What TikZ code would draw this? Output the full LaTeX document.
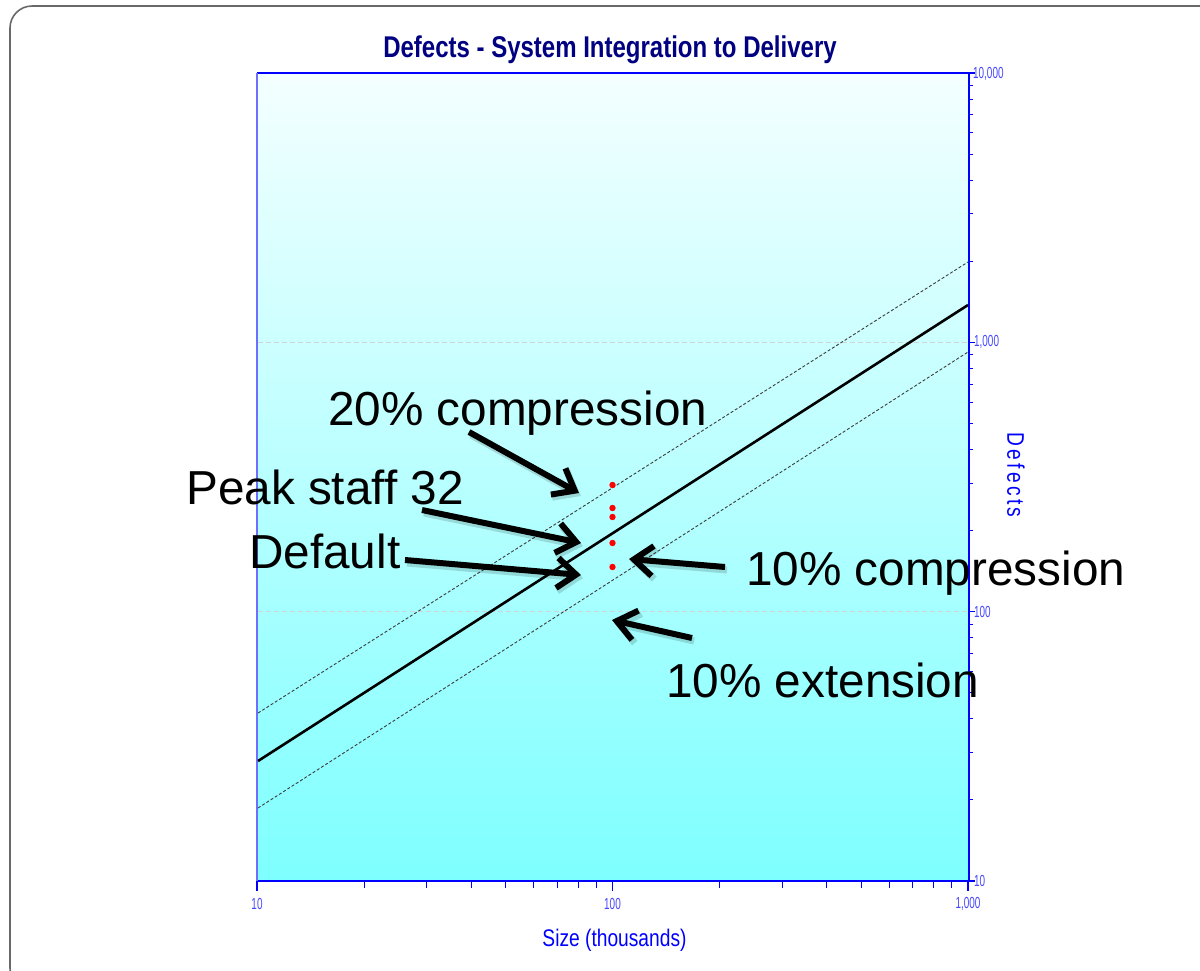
\documentclass[tikz,border=0pt]{standalone}
\usepackage{fontspec}
\setmainfont{Liberation Sans}
\usetikzlibrary{arrows.meta}

\definecolor{navytitle}{RGB}{0,0,128}
\definecolor{axisblue}{RGB}{0,0,255}
\definecolor{leftblue}{RGB}{110,110,255}
\definecolor{ticklbl}{RGB}{70,70,255}
\definecolor{plottop}{RGB}{244,255,255}
\definecolor{plotbottom}{RGB}{126,255,255}
\definecolor{framegray}{RGB}{105,105,105}
\definecolor{fitgray}{RGB}{60,60,60}
\definecolor{gridgray}{RGB}{205,215,215}

% thick call-out arrow with a faint drop shadow
\newcommand\callarrow[2]{%
  \draw[calloutshadow] ([shift={(2,3)}]#1) -- ([shift={(2,3)}]#2);
  \draw[callout] (#1) -- (#2);}

\begin{document}
\begin{tikzpicture}[x=1pt,y=-1pt,
  callout/.style={line width=6pt, black,
    -{Straight Barb[length=19pt,width=30pt]}},
  calloutshadow/.style={line width=7pt, black, opacity=0.15,
    -{Straight Barb[length=19pt,width=30pt]}},
  calltext/.style={anchor=base west, inner sep=0pt,
    font=\fontsize{47.7}{57}\selectfont},
  fitline/.style={line width=2.6pt, black},
  bandline/.style={line width=0.9pt, fitgray, dash pattern=on 3pt off 2pt},
  gridline/.style={line width=1pt, gridgray, dash pattern=on 5pt off 3pt},
  minortick/.style={line width=0.9pt, axisblue},
  majortick/.style={line width=1.1pt, axisblue},
  ticklabel/.style={inner sep=0pt, text=ticklbl,
    font=\fontsize{16}{18}\selectfont},
  datapt/.style={fill=red, draw=none},
]
\useasboundingbox (0,0) rectangle (1200,970);

% slide frame
\draw[framegray, line width=1.6pt, rounded corners=22pt]
  (10,6) rectangle (1225,990);

% plot area
\shade[top color=plottop, bottom color=plotbottom]
  (257,73) rectangle (969,881);

% horizontal grid lines at 1,000 and 100
\draw[gridline] (258,342.3) -- (968,342.3);
\draw[gridline] (258,611.7) -- (968,611.7);

% frame of the plot
\draw[axisblue, line width=1.2pt] (257,73) -- (969,73);
\draw[axisblue, line width=1.6pt] (969,73) -- (969,881);
\draw[axisblue, line width=1.4pt] (257,881) -- (969,881);
\draw[leftblue, line width=1.6pt] (257,73) -- (257,881);

% x axis ticks (log scale, 10 .. 1,000)
\foreach \k in {0,1}
  \foreach \m in {2,...,9}
    \draw[minortick] ({257+355.5*(\k+log10(\m))},881) -- ++(0,7);
\foreach \xx in {257,612.5,968}
  \draw[majortick] (\xx,881) -- ++(0,10);

% y axis ticks on the right (log scale, 10 .. 10,000)
\foreach \k in {0,1,2}
  \foreach \m in {2,...,9}
    \draw[minortick] (969,{881-269.33*(\k+log10(\m))}) -- ++(4,0);
\foreach \yy in {881,611.7,342.3,73}
  \draw[majortick] (969,\yy) -- ++(6,0);

% tick labels
\node[ticklabel] (xl10)   at (257,904)   {\scalebox{0.62}[1]{10}};
\node[ticklabel] (xl100)  at (612.5,904) {\scalebox{0.62}[1]{100}};
\node[ticklabel] (xl1000) at (968,904)   {\scalebox{0.62}[1]{1,000}};
\node[ticklabel, anchor=west] (yl10)    at (974,881)   {\scalebox{0.62}[1]{10}};
\node[ticklabel, anchor=west] (yl100)   at (974,611.7) {\scalebox{0.62}[1]{100}};
\node[ticklabel, anchor=west] (yl1000)  at (974,342.3) {\scalebox{0.62}[1]{1,000}};
\node[ticklabel, anchor=west] (yl10000) at (973,74)    {\scalebox{0.62}[1]{10,000}};

% titles
\node[anchor=base, inner sep=0pt, text=navytitle,
  font=\fontsize{30}{34}\selectfont\bfseries] (title) at (610,57)
  {\scalebox{0.8}[1]{Defects - System Integration to Delivery}};
\node[anchor=base, inner sep=0pt, text=axisblue,
  font=\fontsize{24}{28}\selectfont] (xtitle) at (614.5,946)
  {\scalebox{0.8}[1]{Size (thousands)}};
\node[rotate=-90, inner sep=0pt, text=axisblue,
  font=\fontsize{24}{28}\selectfont] (ytitle) at (1016,475)
  {\scalebox{0.8}[1]{D\kern4pt e\kern4pt f\kern4pt e\kern4pt c\kern4pt t\kern4pt s}};

% fitted trend line and its band
\coordinate (upL) at (258,713);
\coordinate (upR) at (968,262);
\coordinate (fitL) at (258,761);
\coordinate (fitR) at (968,305);
\coordinate (loL) at (258,808);
\coordinate (loR) at (968,352);
\draw[bandline] (upL) -- (upR);
\draw[bandline] (loL) -- (loR);
\draw[fitline] (fitL) -- (fitR);

% scenario points at size 100
\foreach \yy/\nm in {485/p1,508/p2,517/p3,543/p4,567/p5}
  \fill[datapt] (612.5,\yy) coordinate (\nm) circle (3.2);

% call-outs
\node[calltext] (c20)  at (328,425) {20\% compression};
\node[calltext] (peak) at (186,504) {Peak staff 32};
\node[calltext] (dflt) at (249,568) {Default};
\node[calltext] (c10)  at (746,585) {10\% compression};
\node[calltext] (e10)  at (666,697) {10\% extension};

\coordinate (a1s) at (469,432);  \coordinate (a1e) at (579,493);
\coordinate (a2s) at (422,510);  \coordinate (a2e) at (581,543);
\coordinate (a3s) at (405,560);  \coordinate (a3e) at (581,575);
\coordinate (a4s) at (725,567);  \coordinate (a4e) at (629,559);
\coordinate (a5s) at (692,638);  \coordinate (a5e) at (612,620);

\callarrow{a1s}{a1e}
\callarrow{a2s}{a2e}
\callarrow{a3s}{a3e}
\callarrow{a4s}{a4e}
\callarrow{a5s}{a5e}
\end{tikzpicture}
\end{document}
